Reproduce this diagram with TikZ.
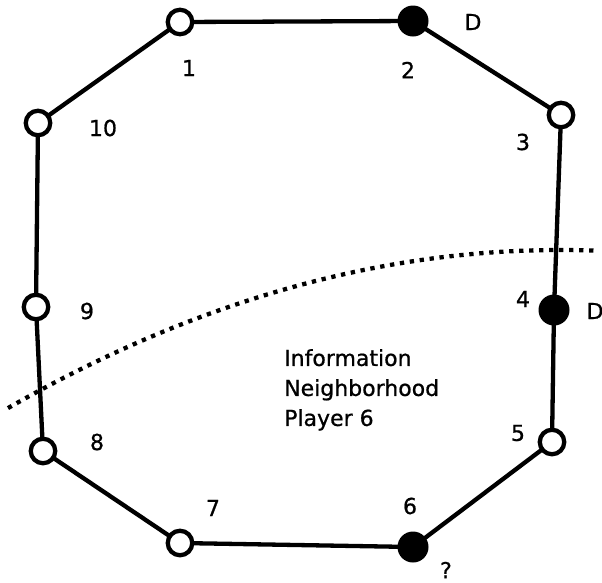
\documentclass[tikz,border=0pt]{standalone}
\usepackage{fontspec}
\setmainfont[FakeBold=0.8,BoldFont={DejaVu Sans}]{DejaVu Sans}
\begin{document}
\begin{tikzpicture}[x=1pt,y=-1pt,
  open/.style={circle,draw=black,fill=white,line width=4.3pt,minimum size=24.5pt,inner sep=0pt},
  closed/.style={circle,fill=black,minimum size=31pt,inner sep=0pt},
  edge/.style={line width=4.3pt,line cap=round},
  lab/.style={font=\fontsize{22}{26}\selectfont,inner sep=0pt},
  boundary/.style={line width=4.3pt,dash pattern=on 4.3pt off 5.7pt}]
\useasboundingbox[fill=white] (0,0) rectangle (602,582);
% curve
\draw[boundary] plot[domain=8:597,samples=80,smooth] (\x,{250+0.000515*(\x-560)*(\x-560)});
% vertices
\coordinate (p1) at (180,22);
\coordinate (p2) at (413,21);
\coordinate (p3) at (561,115);
\coordinate (p4) at (554,310);
\coordinate (p5) at (552,442);
\coordinate (p6) at (413,547);
\coordinate (p7) at (180,543);
\coordinate (p8) at (43,451);
\coordinate (p9) at (36,307);
\coordinate (p10) at (38,123);
\draw[edge] (p1) -- (p2) -- (p3) -- (p4) -- (p5) -- (p6) -- (p7) -- (p8) -- (p9) -- (p10) -- cycle;
\node[open] (n1) at (p1) {};
\node[closed] (n2) at (p2) {};
\node[open] (n3) at (p3) {};
\node[closed] (n4) at (p4) {};
\node[open] (n5) at (p5) {};
\node[closed] (n6) at (p6) {};
\node[open] (n7) at (p7) {};
\node[open] (n8) at (p8) {};
\node[open] (n9) at (p9) {};
\node[open] (n10) at (p10) {};
% labels
\node[lab] (l1) at (189,68) {1};
\node[lab] (l2) at (408,70) {2};
\node[lab] (d2) at (473,22) {D};
\node[lab] (l3) at (523,142) {3};
\node[lab] (l10) at (103,128) {10};
\node[lab] (l9) at (87,311) {9};
\node[lab] (l4) at (523,299) {4};
\node[lab] (d4) at (595,311) {D};
\node[lab] (l5) at (518,433) {5};
\node[lab] (l8) at (97,442) {8};
\node[lab] (l7) at (213,508) {7};
\node[lab] (l6) at (410,506) {6};
\node[lab] (q) at (446,570) {?};
\node[lab,anchor=north west,align=left,font=\fontsize{22}{30}\selectfont] (info) at (284,349) {Information\\Neighborhood\\Player 6};
\end{tikzpicture}
\end{document}
